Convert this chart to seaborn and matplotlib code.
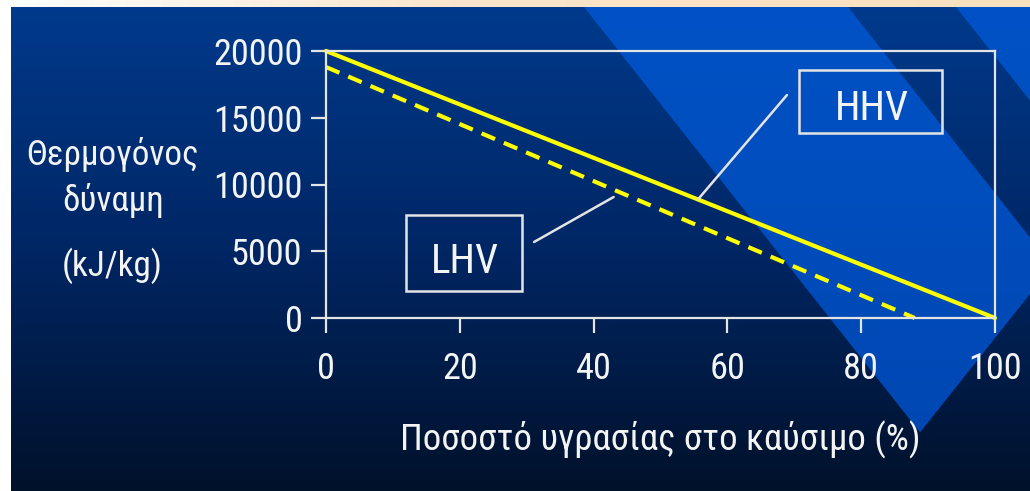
import numpy as np
import pandas as pd
import matplotlib
matplotlib.use("Agg")
import matplotlib.pyplot as plt
import seaborn as sns
from matplotlib import font_manager as fm
from matplotlib.patches import Rectangle

# Heating value of a fuel versus its moisture content
moisture_hhv = [0, 100]
hhv_values = [20000, 0]
moisture_lhv = [0, 88]
lhv_values = [18800, 0]
series_names = ["HHV", "LHV"]
x_ticks = [0, 20, 40, 60, 80, 100]
y_ticks = [0, 5000, 10000, 15000, 20000]
y_label_lines = ["Θερμογόνος", "δύναμη", "(kJ/kg)"]
x_label = "Ποσοστό υγρασίας στο καύσιμο (%)"

W, H, DPI = 1030, 491, 100
WHITE = "#F4F4F4"
FRAME = "#E4E4E4"
YELLOW = "#FFFF00"

sns.set_theme(style="white")

# Pick a narrow sans face; DejaVu Sans covers any missing glyph
installed = {f.name for f in fm.fontManager.ttflist}
narrow_choices = ["Liberation Sans Narrow", "Roboto Condensed", "Open Sans Condensed",
                  "Fira Sans Condensed", "PT Sans Narrow", "Noto Sans"]
face = next((n for n in narrow_choices if n in installed), "DejaVu Sans")
plt.rcParams["font.family"] = [face, "DejaVu Sans"]

df = pd.concat([
    pd.DataFrame({"moisture": moisture_hhv, "value": hhv_values, "kind": series_names[0]}),
    pd.DataFrame({"moisture": moisture_lhv, "value": lhv_values, "kind": series_names[1]}),
], ignore_index=True)


def slide_background():
    """Dark blue slide with a lighter diagonal band, framed at top and left."""
    yy, xx = np.mgrid[0:H, 0:W] + 0.5
    dark = np.stack([np.interp(yy, [7, 250, 491], c)
                     for c in ([0, 0, 0], [58, 38, 17], [140, 100, 42])], -1)
    light = np.stack([np.interp(yy, [7, 491], c)
                      for c in ([0, 0], [82, 70], [198, 176])], -1)
    k1 = 0.79
    n1 = np.hypot(1, k1)
    d_left = (xx - (584 + k1 * (yy - 7))) / n1
    k2 = 1.26
    d_right = ((435 - k2 * (xx - 918)) - yy) / np.hypot(1, k2)
    s1 = (xx - (848 + k1 * (yy - 7))) / n1
    s2 = ((956 + k1 * (yy - 7)) - xx) / n1
    band = np.clip(np.minimum(d_left, d_right) + 0.5, 0, 1)
    stripe = np.clip(np.minimum(s1, s2) + 0.5, 0, 1)
    a = (band * (1 - stripe))[..., None]
    img = dark * (1 - a) + light * a
    top = np.stack([np.interp(xx[0], [0, 450, W], c)
                    for c in ([255, 251, 249], [255, 230, 224], [255, 205, 190])], -1)
    img[:7] = top
    img[:, :11] = 255
    return img / 255.0


fig = plt.figure(figsize=(W / DPI, H / DPI), dpi=DPI)
renderer = fig.canvas.get_renderer()


def fit_size(text, target_px, base=28.0):
    t = fig.text(0, 0, text, fontsize=base)
    w = t.get_window_extent(renderer).width
    t.remove()
    return base * target_px / w


tick_fs = fit_size("20000", 90)
xlab_fs = fit_size(x_label, 520)
ylab_fs = fit_size(y_label_lines[0], 172)
box_fs = fit_size("HHV", 74)

bg = fig.add_axes([0, 0, 1, 1], zorder=-10)
bg.imshow(slide_background(), extent=(0, W, H, 0), aspect="auto", interpolation="bilinear")
bg.axis("off")

ax = fig.add_axes([326 / W, 1 - 318 / H, (995 - 326) / W, (318 - 51) / H])
ax.patch.set_visible(False)

sns.lineplot(data=df, x="moisture", y="value", hue="kind", style="kind",
             palette={n: YELLOW for n in series_names},
             dashes={"HHV": "", "LHV": (3.5, 2.3)},
             linewidth=3, legend=False, ax=ax)
for line in ax.lines:
    line.set_clip_on(False)

ax.set_xlim(0, 100)
ax.set_ylim(0, 20000)
ax.set_xticks(x_ticks)
ax.set_yticks(y_ticks)
ax.grid(False)
for s in ax.spines.values():
    s.set_visible(True)
    s.set_color(FRAME)
    s.set_linewidth(1.6)
ax.tick_params(axis="both", direction="out", length=11, width=1.6, color=FRAME,
               labelcolor=WHITE, labelsize=tick_fs, bottom=True, left=True)
ax.tick_params(axis="y", pad=6)
ax.tick_params(axis="x", pad=13)
ax.set_xlabel(x_label, fontsize=xlab_fs, color=WHITE, labelpad=24)
ax.set_ylabel("")

# Y-axis title in three stacked lines
for text, (px, py) in zip(y_label_lines, [(113, 155), (113, 200), (112, 266)]):
    fig.text(px / W, 1 - py / H, text, fontsize=ylab_fs, color=WHITE, ha="center", va="center")

# Boxed callouts pointing to the two curves
line_kw = dict(arrowstyle="-", color=FRAME, lw=1.8, shrinkA=0, shrinkB=0)
ax.add_patch(Rectangle((70.7, 13858), 21.4, 4719, fill=False, ec=FRAME, lw=1.8, clip_on=False))
ax.text(81.6, 14831, "HHV", fontsize=box_fs, color=WHITE, ha="center", va="baseline")
tip_x = 55.6
ax.annotate("", xy=(tip_x, np.interp(tip_x, moisture_hhv, hhv_values)),
            xytext=(68.9, 16700), arrowprops=line_kw)

ax.add_patch(Rectangle((12.0, 2022), 17.3, 5693, fill=False, ec=FRAME, lw=1.8, clip_on=False))
ax.text(20.8, 3371, "LHV", fontsize=box_fs, color=WHITE, ha="center", va="baseline")
ax.annotate("", xy=(43.0, 9064), xytext=(31.1, 5693), arrowprops=line_kw)

fig.savefig("out.png", dpi=DPI)
